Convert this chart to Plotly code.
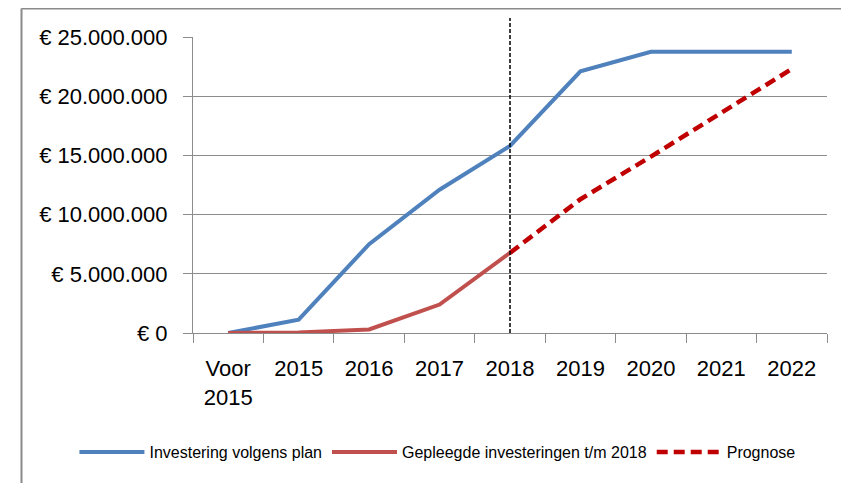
import plotly.graph_objects as go

categories = ["Voor 2015", "2015", "2016", "2017", "2018", "2019", "2020", "2021", "2022"]
category_labels = ["Voor<br>2015", "2015", "2016", "2017", "2018", "2019", "2020", "2021", "2022"]

plan_values = [0, 1.13e6, 7.5e6, 12.1e6, 15.8e6, 22.1e6, 23.75e6, 23.75e6, 23.75e6]
realised_categories = ["Voor 2015", "2015", "2016", "2017", "2018"]
realised_values = [0, 0.05e6, 0.3e6, 2.4e6, 6.77e6]
forecast_categories = ["2018", "2019", "2020", "2021", "2022"]
forecast_values = [6.77e6, 11.3e6, 14.9e6, 18.6e6, 22.3e6]
marker_category = "2018"

y_tickvals = [0, 5e6, 10e6, 15e6, 20e6, 25e6]
y_ticktext = ["€ 0", "€ 5.000.000", "€ 10.000.000", "€ 15.000.000", "€ 20.000.000", "€ 25.000.000"]

FONT = "Liberation Sans"
GRID = "#8c8c8c"

fig = go.Figure()
fig.add_trace(go.Scatter(x=categories, y=plan_values, mode="lines",
                         name="Investering volgens plan",
                         line=dict(color="#4F81BD", width=4)))
fig.add_trace(go.Scatter(x=realised_categories, y=realised_values, mode="lines",
                         name="Gepleegde investeringen t/m 2018",
                         line=dict(color="#C0504D", width=4)))
fig.add_trace(go.Scatter(x=forecast_categories, y=forecast_values, mode="lines",
                         name="Prognose",
                         line=dict(color="#C00000", width=4.5, dash="11px,6px")))

# vertical marker at 2018 (category index position)
marker_idx = categories.index(marker_category)
fig.add_shape(type="line", xref="x", yref="paper", x0=marker_idx, x1=marker_idx,
              y0=0, y1=1.064, line=dict(color="black", width=1.5, dash="4px,2px"))

# outer frame (top and left edges)
fig.add_shape(type="line", xref="paper", yref="paper", x0=-0.2705, x1=1.05,
              y0=1.0963, y1=1.0963, line=dict(color="#8a8a8a", width=2))
fig.add_shape(type="line", xref="paper", yref="paper", x0=-0.2705, x1=-0.2705,
              y0=1.0963, y1=-0.51, line=dict(color="#8a8a8a", width=2))

fig.update_layout(
    width=841, height=475,
    margin=dict(l=185, r=22, t=29, b=150),
    paper_bgcolor="white", plot_bgcolor="white",
    font=dict(family=FONT, color="#000000"),
    showlegend=True,
    legend=dict(orientation="h", x=-0.187, xanchor="left", y=-0.402, yanchor="middle",
                font=dict(family=FONT, size=16, color="#000000"),
                itemwidth=65, bgcolor="rgba(0,0,0,0)"),
)
fig.update_xaxes(type="category", categoryorder="array", categoryarray=categories,
                 tickmode="array", tickvals=categories, ticktext=category_labels,
                 tickson="boundaries", ticks="outside", ticklen=9, tickcolor=GRID,
                 showline=True, linecolor=GRID, linewidth=1, showgrid=False,
                 tickfont=dict(family=FONT, size=22, color="#000000"),
                 ticklabelstandoff=16, range=[-0.5, 8.5])
fig.update_yaxes(range=[0, 25e6], tickmode="array", tickvals=y_tickvals, ticktext=y_ticktext,
                 ticks="outside", ticklen=9, tickcolor=GRID,
                 showline=True, linecolor=GRID, linewidth=1,
                 showgrid=True, gridcolor=GRID, gridwidth=1, zeroline=False,
                 tickfont=dict(family=FONT, size=22, color="#000000"),
                 ticklabelstandoff=11)

fig.write_html("out.html")
